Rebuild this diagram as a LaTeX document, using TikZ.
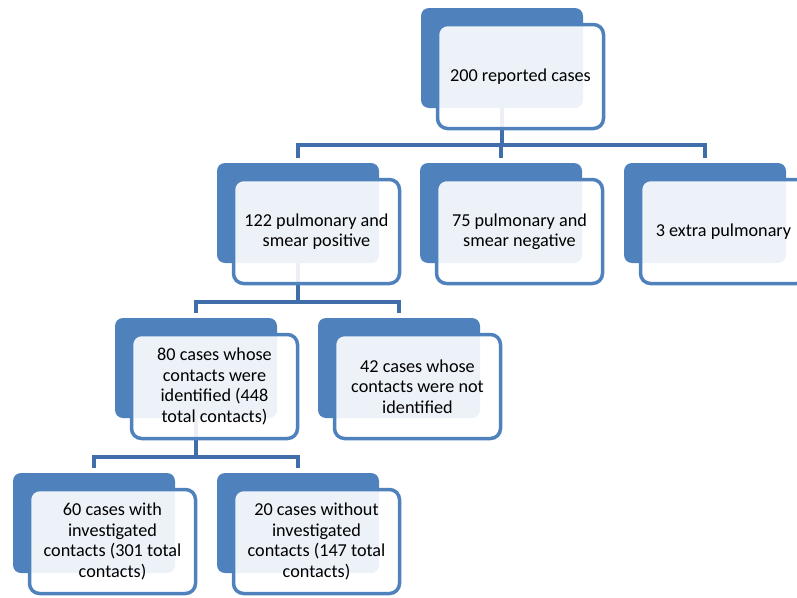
\documentclass[tikz,border=0pt]{standalone}
\usepackage{fontspec}
\setmainfont{Carlito}
\usetikzlibrary{calc}
\definecolor{accent}{HTML}{4F81BD}
\definecolor{connc}{HTML}{3F6EAA}
\begin{document}
\begin{tikzpicture}[x=1pt,y=-1pt,
  backbox/.style={draw=none,fill=accent,rounded corners=8pt,minimum width=162pt,minimum height=100pt,anchor=north west,inner sep=0pt,outer sep=0pt},
  frontbox/.style={draw=accent,line width=3.5pt,fill=white,fill opacity=0.9,text opacity=1,rounded corners=10pt,minimum width=166pt,minimum height=104pt,anchor=north west,inner sep=0pt,outer sep=0pt,align=center,font=\fontsize{18.2}{20.5}\selectfont},
  conn/.style={draw=connc,line width=4pt}]
\useasboundingbox (0,0) rectangle (797,597);
\clip (0,0) rectangle (797,597);
% back boxes
\node[backbox] (b1) at (421,8) {};
\node[backbox] (b2) at (217,163) {};
\node[backbox] (b3) at (420,163) {};
\node[backbox] (b4) at (624,163) {};
\node[backbox] (b5) at (115,318) {};
\node[backbox] (b6) at (318,318) {};
\node[backbox] (b7) at (13,473) {};
\node[backbox] (b8) at (217,473) {};
% bar levels
\coordinate (bar1) at (0,145);
\coordinate (bar2) at (0,301.5);
\coordinate (bar3) at (0,456.5);
% connectors
\draw[conn] (b1.south) -- (b1.south |- bar1);
\draw[conn] ($(b2.north)+(0,-5)$) -- (b2.north |- bar1) -- (b4.north |- bar1) -- ($(b4.north)+(0,-5)$);
\draw[conn] (b3.north |- bar1) -- ($(b3.north)+(0,-5)$);
\draw[conn] (b2.south) -- (b2.south |- bar2);
\draw[conn] ($(b5.north)+(0,-5)$) -- (b5.north |- bar2) -- (b6.north |- bar2) -- ($(b6.north)+(0,-5)$);
\draw[conn] (b5.south) -- (b5.south |- bar3);
\draw[conn] ($(b7.north)+(0,-5)$) -- (b7.north |- bar3) -- (b8.north |- bar3) -- ($(b8.north)+(0,-5)$);
% front boxes
\node[frontbox] (f1) at ($(b1.north west)+(16.5,16.5)$) {200 reported cases};
\node[frontbox] (f2) at ($(b2.north west)+(16.5,16.5)$) {122 pulmonary and\\smear positive};
\node[frontbox] (f3) at ($(b3.north west)+(16.5,16.5)$) {75 pulmonary and\\smear negative};
\node[frontbox] (f4) at ($(b4.north west)+(16.5,16.5)$) {3 extra pulmonary};
\node[frontbox] (f5) at ($(b5.north west)+(16.5,16.5)$) {80 cases whose\\contacts were\\identified (448\\total contacts)};
\node[frontbox] (f6) at ($(b6.north west)+(16.5,16.5)$) {42 cases whose\\contacts were not\\identified};
\node[frontbox] (f7) at ($(b7.north west)+(16.5,16.5)$) {60 cases with\\investigated\\contacts (301 total\\contacts)};
\node[frontbox] (f8) at ($(b8.north west)+(16.5,16.5)$) {20 cases without\\investigated\\contacts (147 total\\contacts)};
\end{tikzpicture}
\end{document}
